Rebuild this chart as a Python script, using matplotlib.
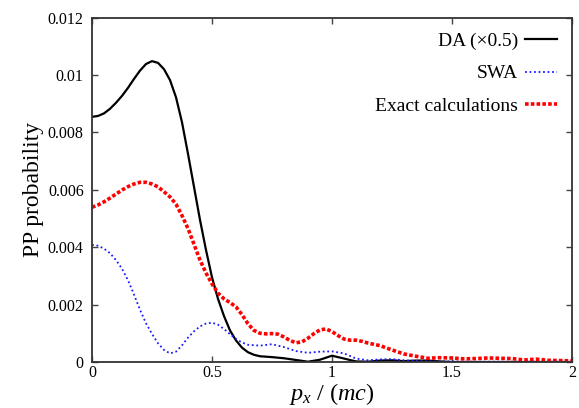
import matplotlib
matplotlib.use("Agg")
import matplotlib.pyplot as plt

plt.rcParams['font.family'] = ['Liberation Serif', 'DejaVu Serif']
plt.rcParams['mathtext.fontset'] = 'custom'
plt.rcParams['mathtext.rm'] = 'Liberation Serif'
plt.rcParams['mathtext.it'] = 'Liberation Serif:italic'

# DA (x0.5)
da_x = [0, 0.025, 0.05, 0.075, 0.1, 0.125, 0.15, 0.175, 0.2, 0.225, 0.25, 0.275, 0.3,
        0.325, 0.35, 0.375, 0.4, 0.425, 0.45, 0.475, 0.5, 0.525, 0.55, 0.575, 0.6,
        0.625, 0.65, 0.675, 0.7, 0.75, 0.8, 0.85, 0.9, 0.95, 1.0, 1.05, 1.1, 1.15,
        1.2, 1.25, 1.3, 1.35, 1.4, 1.45, 1.5, 1.6, 1.8, 2.0]
da_y = [8.54, 8.57, 8.66, 8.82, 9.03, 9.27, 9.55, 9.86, 10.15, 10.38, 10.48, 10.42, 10.2,
        9.82, 9.22, 8.35, 7.25, 6.1, 4.95, 3.9, 2.95, 2.2, 1.6, 1.1, 0.75,
        0.5, 0.34, 0.25, 0.2, 0.17, 0.13, 0.07, 0.01, 0.08, 0.22, 0.12, 0.02, 0.01,
        0.05, 0.06, 0.03, 0.05, 0.05, 0.02, 0.0, 0.0, 0.0, 0.0]

# SWA
swa_x = [0, 0.025, 0.05, 0.075, 0.1, 0.125, 0.15, 0.175, 0.2, 0.225, 0.25, 0.275, 0.3,
         0.325, 0.35, 0.375, 0.4, 0.425, 0.45, 0.475, 0.5, 0.525, 0.55, 0.575, 0.6,
         0.625, 0.65, 0.7, 0.75, 0.8, 0.85, 0.9, 0.95, 1.0, 1.05, 1.1, 1.15, 1.2,
         1.25, 1.3, 1.35, 1.4, 1.5, 1.6, 2.0]
swa_y = [4.08, 4.05, 3.95, 3.79, 3.55, 3.25, 2.85, 2.35, 1.82, 1.35, 0.98, 0.65, 0.42,
         0.3, 0.36, 0.58, 0.85, 1.07, 1.24, 1.34, 1.37, 1.3, 1.15, 0.97, 0.8,
         0.68, 0.6, 0.57, 0.62, 0.52, 0.38, 0.32, 0.36, 0.37, 0.3, 0.12, 0.06, 0.09,
         0.1, 0.06, 0.04, 0.02, 0.02, 0.01, 0.01]

# Exact calculations
ex_x = [0, 0.025, 0.05, 0.075, 0.1, 0.125, 0.15, 0.175, 0.2, 0.225, 0.25, 0.275, 0.3,
        0.325, 0.35, 0.375, 0.4, 0.425, 0.45, 0.475, 0.5, 0.525, 0.55, 0.575, 0.6,
        0.625, 0.65, 0.675, 0.7, 0.725, 0.75, 0.775, 0.8, 0.825, 0.85, 0.875, 0.9,
        0.925, 0.95, 0.975, 1.0, 1.025, 1.05, 1.075, 1.1, 1.125, 1.15, 1.2, 1.25,
        1.3, 1.35, 1.4, 1.45, 1.5, 1.55, 1.6, 1.65, 1.7, 1.75, 1.8, 1.85, 1.9, 1.95, 2.0]
ex_y = [5.39, 5.47, 5.58, 5.71, 5.85, 5.99, 6.11, 6.2, 6.26, 6.26, 6.2, 6.1, 5.93,
        5.75, 5.5, 5.1, 4.65, 4.1, 3.55, 3.1, 2.72, 2.4, 2.2, 2.07, 1.92,
        1.65, 1.33, 1.1, 1.0, 0.98, 0.99, 0.97, 0.87, 0.75, 0.67, 0.7, 0.83,
        0.99, 1.12, 1.15, 1.06, 0.92, 0.8, 0.76, 0.76, 0.72, 0.66, 0.57, 0.42,
        0.28, 0.2, 0.13, 0.15, 0.14, 0.11, 0.12, 0.14, 0.13, 0.12, 0.07, 0.1, 0.06, 0.05, 0.04]

labels = ['DA (\u00d70.5)', 'SWA', 'Exact calculations']
x_ticks = [0, 0.5, 1, 1.5, 2]
x_ticklabels = ['0', '0.5', '1', '1.5', '2']
y_ticks = [0, 0.002, 0.004, 0.006, 0.008, 0.01, 0.012]
y_ticklabels = ['0', '0.002', '0.004', '0.006', '0.008', '0.01', '0.012']

fig = plt.figure(figsize=(5.79, 4.08), dpi=100)
ax = fig.add_axes([92/579, 46/408, 480/579, 344.5/408])

ax.plot(da_x, [v * 1e-3 for v in da_y], color='black', lw=1.6, label=labels[0])
ax.plot(swa_x, [v * 1e-3 for v in swa_y], color='#1a1aff', lw=1.3,
        linestyle=(0, (1, 1.5)), label=labels[1])
ax.plot(ex_x, [v * 1e-3 for v in ex_y], color='#ff0000', lw=2.6,
        linestyle=(0, (1.0, 0.6)), label=labels[2])

ax.set_xlim(0, 2)
ax.set_ylim(0, 0.012)
ax.set_xticks(x_ticks)
ax.set_xticklabels(x_ticklabels)
ax.set_yticks(y_ticks)
ax.set_yticklabels(y_ticklabels)
ax.tick_params(direction='in', length=4, width=1.0, top=True, right=True,
               labelsize=11.5, color='#444444', pad=6)
ax.tick_params(axis='x', pad=2)
for s in ax.spines.values():
    s.set_linewidth(1.3)
    s.set_color('#333333')

ax.set_ylabel('PP probability', fontsize=17, labelpad=3)
ax.set_xlabel(r'$p_x\,\,/\,\,(mc)$', fontsize=17.5)
ax.xaxis.set_label_coords(0.5, -0.056)

leg = ax.legend(loc='upper right', bbox_to_anchor=(0.969, 0.957), frameon=False,
                markerfirst=False, fontsize=14, handlelength=1.65, handletextpad=0.36,
                labelspacing=0.76, borderpad=0, borderaxespad=0)

fig.savefig('out.png', dpi=100)
